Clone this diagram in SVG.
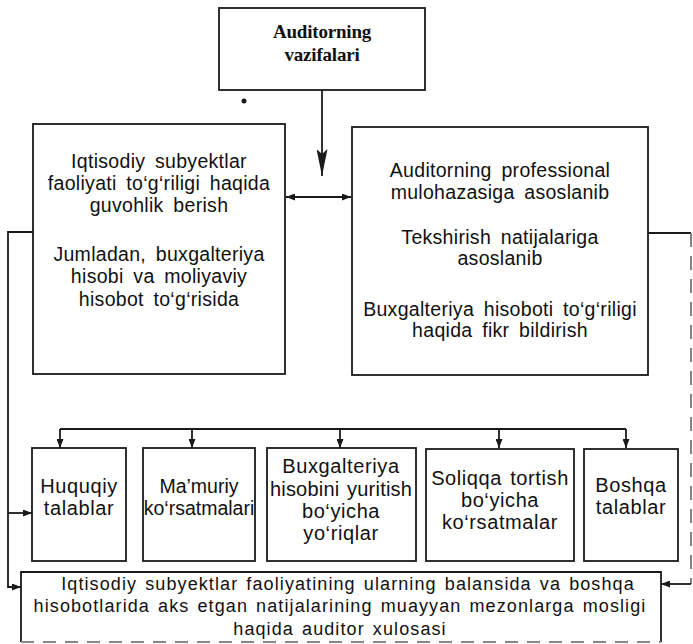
<svg xmlns="http://www.w3.org/2000/svg" width="693" height="644" viewBox="0 0 693 644">
<style>
.box{fill:#fff;stroke:#1a1a1a;stroke-width:1.8}
.ln{fill:none;stroke:#1a1a1a;stroke-width:1.8}
.t{font-family:"Liberation Sans",Arial,sans-serif;font-size:19.5px;letter-spacing:0.3px;word-spacing:4px;text-anchor:middle;fill:#111}
.s{font-family:"Liberation Sans",Arial,sans-serif;font-size:20px;letter-spacing:0.6px;word-spacing:2px;text-anchor:middle;fill:#111}
.c{font-family:"Liberation Sans",Arial,sans-serif;font-size:18px;letter-spacing:1.1px;word-spacing:2px;text-anchor:middle;fill:#111}
.h{font-family:"Liberation Serif","Times New Roman",serif;font-size:19px;font-weight:bold;letter-spacing:-0.2px;text-anchor:middle;fill:#111}
</style>
<defs>
<marker id="a" markerUnits="userSpaceOnUse" markerWidth="9" markerHeight="7" refX="9" refY="3.5" orient="auto-start-reverse"><path d="M0,0 L9,3.5 L0,7 z" fill="#1a1a1a"/></marker>
<marker id="big" markerUnits="userSpaceOnUse" markerWidth="27" markerHeight="11" refX="27" refY="5.5" orient="auto"><path d="M0,0 L27,5.5 L0,11 L5,5.5 z" fill="#1a1a1a"/></marker>
</defs>

<g id="connectors">
<line class="ln" x1="322" y1="90" x2="322" y2="176" marker-end="url(#big)"/>
<line class="ln" x1="286" y1="197" x2="351" y2="197" marker-start="url(#a)" marker-end="url(#a)"/>
<polyline class="ln" points="33,232 8,232 8,587 21,587" marker-end="url(#a)"/>
<line class="ln" x1="8" y1="513" x2="32" y2="513" marker-end="url(#a)"/>
<line class="ln" x1="648" y1="233" x2="691" y2="233"/>
<line x1="691" y1="233" x2="691" y2="584" stroke="#777" stroke-width="1.8" stroke-dasharray="14 9"/>
<line class="ln" x1="691" y1="584" x2="661" y2="584" marker-end="url(#a)"/>
<line class="ln" x1="60" y1="429" x2="626" y2="429"/>
<line class="ln" x1="60" y1="429" x2="60" y2="448" marker-end="url(#a)"/>
<line class="ln" x1="192" y1="429" x2="192" y2="448" marker-end="url(#a)"/>
<line class="ln" x1="340" y1="429" x2="340" y2="448" marker-end="url(#a)"/>
<line class="ln" x1="499" y1="429" x2="499" y2="448" marker-end="url(#a)"/>
<line class="ln" x1="626" y1="429" x2="626" y2="448" marker-end="url(#a)"/>
</g>

<circle cx="244" cy="101" r="2.5" fill="#1a1a1a"/>

<g id="n-top">
<rect class="box" x="219" y="8" width="206" height="82"/>
<text class="h" x="322" y="38">Auditorning</text>
<text class="h" x="322" y="61">vazifalari</text>
</g>

<g id="n-left">
<rect class="box" x="33" y="124" width="252" height="250"/>
<text class="t" x="159" y="168">Iqtisodiy subyektlar</text>
<text class="t" x="159" y="190">faoliyati to‘g‘riligi haqida</text>
<text class="t" x="159" y="212">guvohlik berish</text>
<text class="t" x="159" y="261">Jumladan, buxgalteriya</text>
<text class="t" x="159" y="283">hisobi va moliyaviy</text>
<text class="t" x="159" y="306">hisobot to‘g‘risida</text>
</g>

<g id="n-right">
<rect class="box" x="352" y="127" width="296" height="248"/>
<text class="t" x="500" y="177">Auditorning professional</text>
<text class="t" x="500" y="199">mulohazasiga asoslanib</text>
<text class="t" x="500" y="244">Tekshirish natijalariga</text>
<text class="t" x="500" y="265">asoslanib</text>
<text class="t" x="500" y="316">Buxgalteriya hisoboti to‘g‘riligi</text>
<text class="t" x="500" y="337">haqida fikr bildirish</text>
</g>

<g id="n-huquqiy">
<rect class="box" x="32" y="448" width="94" height="113"/>
<text class="s" x="79" y="493">Huquqiy</text>
<text class="s" x="79" y="515">talablar</text>
</g>

<g id="n-mamuriy">
<rect class="box" x="143" y="448" width="112" height="113"/>
<text class="s" x="199" y="493" style="letter-spacing:0;font-size:19.5px">Ma’muriy</text>
<text class="s" x="199" y="515" style="letter-spacing:0;font-size:19.5px">ko‘rsatmalari</text>
</g>

<g id="n-buxgalteriya">
<rect class="box" x="267" y="448" width="149" height="113"/>
<text class="s" x="341" y="473">Buxgalteriya</text>
<text class="s" x="341" y="496" style="letter-spacing:0.2px">hisobini yuritish</text>
<text class="s" x="341" y="518">bo‘yicha</text>
<text class="s" x="341" y="540">yo‘riqlar</text>
</g>

<g id="n-soliqqa">
<rect class="box" x="426" y="449" width="148" height="112"/>
<text class="s" x="500" y="485">Soliqqa tortish</text>
<text class="s" x="500" y="507">bo‘yicha</text>
<text class="s" x="500" y="529">ko‘rsatmalar</text>
</g>

<g id="n-boshqa">
<rect class="box" x="584" y="449" width="94" height="112"/>
<text class="s" x="631" y="492">Boshqa</text>
<text class="s" x="631" y="514">talablar</text>
</g>

<g id="n-xulosa">
<rect x="21" y="572" width="640" height="70" fill="#fff"/>
<path class="ln" d="M21,642 L21,572 L661,572 L661,642"/>
<line x1="21" y1="642" x2="661" y2="642" stroke="#888" stroke-width="1.8" stroke-dasharray="13 9"/>
<text class="c" x="348" y="590">Iqtisodiy subyektlar faoliyatining ularning balansida va boshqa</text>
<text class="c" x="340" y="612">hisobotlarida aks etgan natijalarining muayyan mezonlarga mosligi</text>
<text class="c" x="340" y="635">haqida auditor xulosasi</text>
</g>
</svg>
